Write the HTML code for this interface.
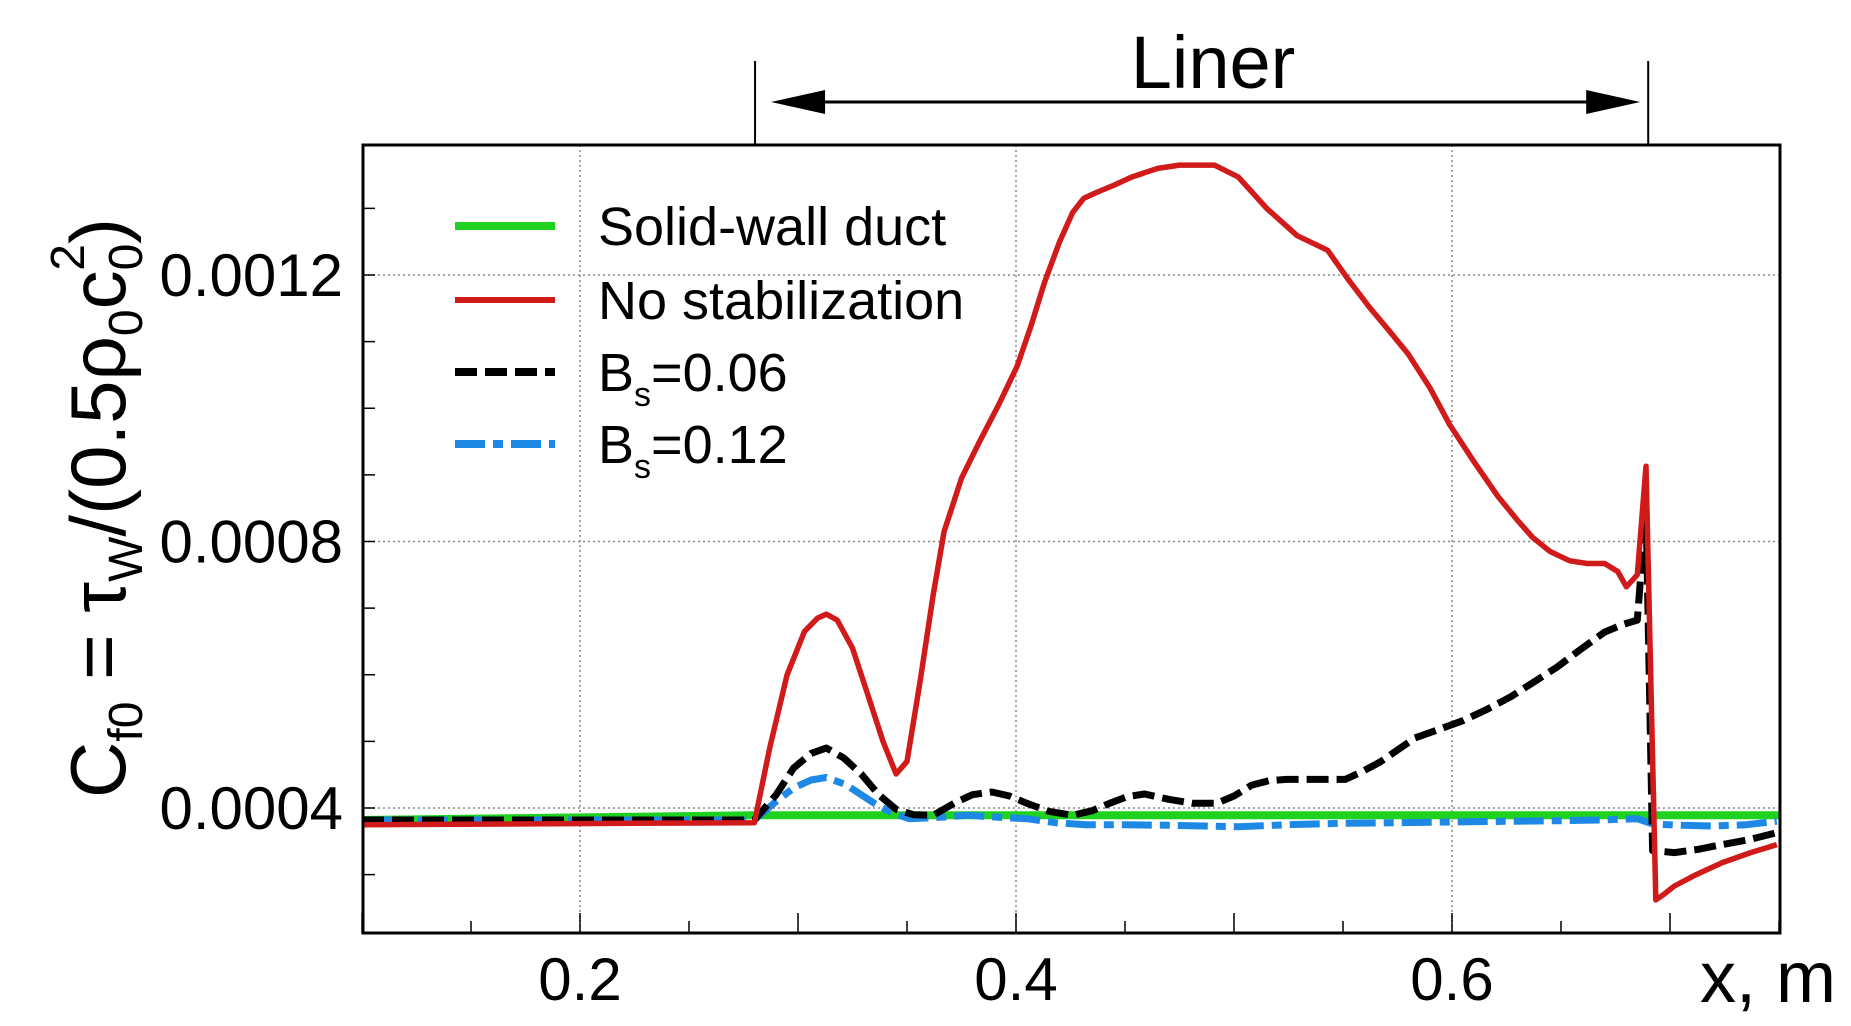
<!DOCTYPE html>
<html><head><meta charset="utf-8"><style>
html,body{margin:0;padding:0;background:#fff;}
svg{display:block;font-family:"Liberation Sans",Arial,sans-serif;}
</style></head><body>
<svg id="chart" width="1851" height="1026" viewBox="0 0 1851 1026">
<g id="grid"></g>
<g id="series"></g>
<rect x="363" y="145" width="1417" height="788" fill="none" stroke="#000" stroke-width="3"/>
<g id="ticks"></g>
<g>
<line id="linerL" y1="61" y2="145" stroke="#000" stroke-width="2"/>
<line id="linerR" y1="61" y2="145" stroke="#000" stroke-width="2"/>
<line id="linerArrow" y1="102" y2="102" stroke="#000" stroke-width="3"/>
<polygon id="arrowL" fill="#000"/>
<polygon id="arrowR" fill="#000"/>
<text x="1213" y="88" font-size="74" text-anchor="middle">Liner</text>
</g>
<text transform="translate(125,508) rotate(-90)" font-size="78" text-anchor="middle">C<tspan font-size="48" dy="17">f0</tspan><tspan dy="-17"> = τ</tspan><tspan font-size="48" dy="17">W</tspan><tspan dy="-17">/(0.5ρ</tspan><tspan font-size="48" dy="17">0</tspan><tspan dy="-17">c</tspan><tspan font-size="48" dy="17">0</tspan><tspan font-size="48" dx="-27" dy="-58">2</tspan><tspan dy="41">)</tspan></text>
<text x="1700" y="1002" font-size="72">x, m</text>
<g>
<line x1="455" y1="226" x2="555" y2="226" stroke="#1fd21f" stroke-width="8"/>
<text x="598" y="245" font-size="54">Solid-wall duct</text>
<line x1="455" y1="300" x2="555" y2="300" stroke="#d11a1a" stroke-width="6"/>
<text x="598" y="319" font-size="54">No stabilization</text>
<line x1="455" y1="372" x2="555" y2="372" stroke="#000" stroke-width="8" stroke-dasharray="22,8"/>
<text x="598" y="391" font-size="54">B<tspan font-size="34" dy="15">s</tspan><tspan dy="-15">=0.06</tspan></text>
<line x1="455" y1="444" x2="555" y2="444" stroke="#1e88e5" stroke-width="8" stroke-dasharray="30,8,10,8"/>
<text x="598" y="463" font-size="54">B<tspan font-size="34" dy="15">s</tspan><tspan dy="-15">=0.12</tspan></text>
</g>
</svg>
<script>
const xTicks=[0.2,0.4,0.6];
const xTickLabels=["0.2","0.4","0.6"];
const yTicks=[0.0004,0.0008,0.0012];
const yTickLabels=["0.0004","0.0008","0.0012"];
const linerRange=[0.2803,0.690];
const redX=[0.1,0.28,0.287,0.295,0.303,0.309,0.313,0.318,0.325,0.332,0.339,0.345,0.35,0.356,0.362,0.367,0.375,0.383,0.392,0.4005,0.407,0.413,0.42,0.426,0.431,0.437,0.445,0.453,0.465,0.475,0.491,0.502,0.515,0.529,0.543,0.552,0.562,0.571,0.580,0.59,0.599,0.61,0.621,0.63,0.637,0.645,0.654,0.662,0.670,0.676,0.680,0.685,0.689,0.691,0.6935,0.697,0.702,0.712,0.724,0.737,0.749];
const redY=[0.000375,0.000378,0.00049,0.0006,0.000665,0.000685,0.000691,0.000682,0.00064,0.00057,0.0005,0.000451,0.00047,0.00059,0.00072,0.000815,0.000895,0.000948,0.001005,0.001063,0.001125,0.001188,0.00125,0.001294,0.001315,0.001324,0.001335,0.001347,0.00136,0.001365,0.001365,0.001347,0.0013,0.001259,0.001237,0.001195,0.001152,0.001117,0.001081,0.00103,0.000975,0.00092,0.000868,0.000832,0.000806,0.000785,0.000771,0.000767,0.000767,0.000755,0.000732,0.00075,0.000913,0.00062,0.000262,0.00027,0.000283,0.0003,0.000318,0.000333,0.000345];
const blackX=[0.1,0.28,0.29,0.298,0.306,0.313,0.321,0.329,0.337,0.345,0.353,0.362,0.372,0.38,0.389,0.397,0.405,0.415,0.426,0.435,0.443,0.451,0.459,0.47,0.481,0.492,0.5,0.508,0.516,0.524,0.538,0.551,0.559,0.567,0.575,0.583,0.594,0.605,0.616,0.627,0.638,0.648,0.659,0.670,0.678,0.685,0.689,0.692,0.702,0.713,0.724,0.737,0.749];
const blackY=[0.000382,0.000382,0.00042,0.00046,0.000482,0.00049,0.000475,0.000451,0.00042,0.000398,0.00039,0.000389,0.000408,0.00042,0.000424,0.000418,0.000407,0.000395,0.000389,0.000396,0.000407,0.000417,0.000421,0.000413,0.000407,0.000407,0.000418,0.000434,0.000441,0.000443,0.000443,0.000443,0.000455,0.000469,0.000487,0.000505,0.000518,0.000531,0.000548,0.000567,0.00059,0.000611,0.000638,0.000664,0.000675,0.000682,0.00085,0.000336,0.000333,0.000338,0.000345,0.000353,0.000363];
const blueX=[0.1,0.28,0.29,0.298,0.306,0.313,0.322,0.335,0.343,0.351,0.365,0.378,0.392,0.405,0.418,0.432,0.45,0.47,0.486,0.502,0.525,0.55,0.575,0.6,0.625,0.65,0.668,0.685,0.692,0.705,0.72,0.735,0.749];
const blueY=[0.000382,0.000382,0.00041,0.00043,0.000442,0.000446,0.000435,0.000407,0.000393,0.000384,0.000386,0.000389,0.000386,0.000384,0.000378,0.000375,0.000375,0.000374,0.000373,0.000372,0.000375,0.000377,0.000378,0.000379,0.00038,0.000381,0.000382,0.000384,0.000376,0.000374,0.000373,0.000375,0.00038];
const greenX=[0.1,0.28,0.75];
const greenY=[0.000382,0.000389,0.000389];
const X0=363,X1=1780,Y0=145,Y1=933;
function sx(v){return 580+(v-0.2)*2180;}
function sy(v){return 808-(v-0.0004)*666250;}
const NS="http://www.w3.org/2000/svg";
function mk(tag,attrs,parent){const e=document.createElementNS(NS,tag);for(const k in attrs)e.setAttribute(k,attrs[k]);parent.appendChild(e);return e;}
const grid=document.getElementById('grid'),ticks=document.getElementById('ticks'),series=document.getElementById('series');
xTicks.forEach((v,i)=>{
 const g=mk('line',{x1:sx(v),x2:sx(v),y1:Y0,y2:Y1,stroke:'#888','stroke-width':1.5,'stroke-dasharray':'2,3'},grid);
 
 
 const t=mk('text',{x:sx(v),y:1000,'font-size':60,'text-anchor':'middle'},ticks);
 t.textContent=xTickLabels[i];
 
 
});
for(let k=0;k<=13;k++){
 const v=0.1+k*0.05;
 const m=mk('line',{x1:sx(v),x2:sx(v),y1:Y1,y2:Y1-(k%2===0?20:12),stroke:'#000','stroke-width':1.5},ticks);
 
 
}
yTicks.forEach((v,i)=>{
 const g=mk('line',{x1:X0,x2:X1,y1:sy(v),y2:sy(v),stroke:'#888','stroke-width':1.5,'stroke-dasharray':'2,3'},grid);
 
 
 const t=mk('text',{x:343,y:sy(v)+21,'font-size':60,'text-anchor':'end'},ticks);
 t.textContent=yTickLabels[i];
 
 
});
for(let k=3;k<=13;k++){
 const y=sy(k*0.0001); if(y<Y0||y>Y1)continue;
 const m=mk('line',{x1:X0,x2:X0+12,y1:y,y2:y,stroke:'#000','stroke-width':1.5},ticks);
 
 
}
function path(xs,ys,attrs,name){
 const d=xs.map((x,i)=>(i?'L':'M')+sx(x).toFixed(1)+','+sy(ys[i]).toFixed(1)).join('');
 const p=mk('path',Object.assign({d:d,fill:'none','stroke-linejoin':'round'},attrs),series);
 
 
}
path(greenX,greenY,{stroke:'#1fd21f','stroke-width':8},'series-solid-wall');
path(blueX,blueY,{stroke:'#1e88e5','stroke-width':7,'stroke-dasharray':'30,8,10,8'},'series-bs012');
path(blackX,blackY,{stroke:'#000','stroke-width':7,'stroke-dasharray':'22,8'},'series-bs006');
path(redX,redY,{stroke:'#d11a1a','stroke-width':5.5},'series-no-stabilization');
const L=sx(linerRange[0]),R=sx(linerRange[1]);
const lL=document.getElementById('linerL');lL.setAttribute('x1',L);lL.setAttribute('x2',L);
const lR=document.getElementById('linerR');lR.setAttribute('x1',R);lR.setAttribute('x2',R);
const la=document.getElementById('linerArrow');la.setAttribute('x1',L+40);la.setAttribute('x2',R-40);
document.getElementById('arrowL').setAttribute('points',`${L+16},102 ${L+70},90 ${L+70},114`);
document.getElementById('arrowR').setAttribute('points',`${R-8},102 ${R-62},90 ${R-62},114`);
</script>
</body></html>
